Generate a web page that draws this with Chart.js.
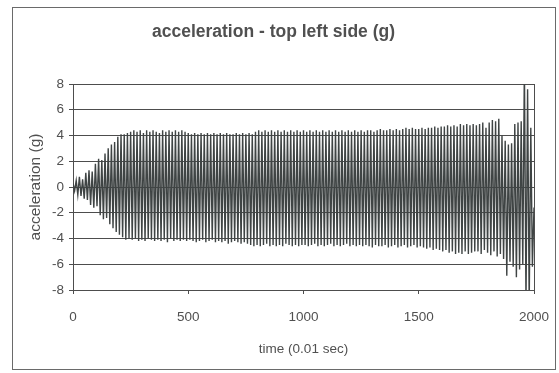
<!DOCTYPE html>
<html>
<head>
<meta charset="utf-8">
<script src="https://cdn.jsdelivr.net/npm/chart.js@4.4.1/dist/chart.umd.min.js"></script>
<style>
  body { margin: 0; background: #fff; }
  #frame {
    position: absolute; left: 12px; top: 7px;
    width: 544px; height: 363px;
    border: 1px solid #6a6a6a; box-sizing: border-box;
  }
  canvas { display: block; }
</style>
</head>
<body>
<div id="frame"><canvas id="accelChart" width="542" height="361"></canvas></div>
<script>
// peak / trough of each swing, in g, one block per 250 samples (0.01 sec)
const swings0 = [0.3, -0.3, 0.5, -0.6, 0.8, -0.7, 0.6, -0.9, 1.1, -1.0, 1.3, -1.4, 1.2, -1.6, 1.8, -1.5, 2.2, -2.2,
  2.1, -2.5, 2.6, -2.4, 3.0, -2.9, 3.3, -3.2, 3.5, -3.5, 3.9, -3.7, 4.1, -3.9, 4.1, -4.1, 4.2, -4.0];
const swings1 = [4.3, -4.1, 4.4, -4.0, 4.3, -4.2, 4.4, -4.1, 4.2, -4.2, 4.4, -4.0, 4.3, -4.1, 4.4, -4.2, 4.3, -4.1,
  4.2, -4.2, 4.4, -4.1, 4.3, -4.3, 4.4, -4.0, 4.3, -4.2, 4.4, -4.1, 4.3, -4.2, 4.4, -4.1, 4.3, -4.2];
const swings2 = [4.2, -4.1, 4.1, -4.2, 4.2, -4.3, 4.1, -4.2, 4.2, -4.1, 4.1, -4.3, 4.2, -4.2, 4.1, -4.1, 4.2, -4.3,
  4.1, -4.2, 4.2, -4.3, 4.1, -4.2, 4.2, -4.4, 4.1, -4.3, 4.1, -4.2, 4.2, -4.3, 4.1, -4.4, 4.2, -4.3];
const swings3 = [4.1, -4.4, 4.2, -4.5, 4.1, -4.6, 4.3, -4.5, 4.4, -4.6, 4.3, -4.5, 4.4, -4.4, 4.3, -4.6, 4.4, -4.5,
  4.3, -4.6, 4.4, -4.5, 4.3, -4.6, 4.4, -4.4, 4.3, -4.5, 4.4, -4.6, 4.3, -4.5, 4.4, -4.6, 4.3, -4.5];
const swings4 = [4.4, -4.5, 4.3, -4.6, 4.4, -4.5, 4.3, -4.4, 4.4, -4.6, 4.3, -4.5, 4.4, -4.6, 4.3, -4.5, 4.4, -4.4,
  4.3, -4.6, 4.4, -4.5, 4.3, -4.6, 4.4, -4.5, 4.3, -4.4, 4.4, -4.6, 4.3, -4.5, 4.4, -4.6, 4.3, -4.5];
const swings5 = [4.4, -4.6, 4.3, -4.5, 4.4, -4.6, 4.4, -4.7, 4.3, -4.5, 4.4, -4.6, 4.5, -4.6, 4.4, -4.5, 4.4, -4.7,
  4.5, -4.6, 4.4, -4.5, 4.5, -4.7, 4.4, -4.6, 4.5, -4.5, 4.6, -4.7, 4.5, -4.6, 4.6, -4.5, 4.5, -4.7];
const swings6 = [4.5, -4.6, 4.6, -4.7, 4.5, -4.8, 4.6, -4.7, 4.6, -4.9, 4.7, -4.8, 4.6, -4.9, 4.7, -5.0, 4.7, -4.9,
  4.8, -5.1, 4.7, -5.0, 4.8, -5.2, 4.7, -5.1, 4.9, -5.2, 4.8, -5.0, 4.9, -5.2, 4.8, -5.1, 4.9, -5.0];
const swings7 = [4.8, -5.0, 4.9, -5.2, 5.0, -4.9, 4.6, -5.1, 5.0, -5.3, 5.2, -5.0, 5.1, -5.4, 5.3, -5.2, 4.0, -5.6,
  3.6, -6.9, 3.3, -5.8, 3.4, -6.2, 4.9, -7.0, 5.0, -6.4, 5.1, -6.0, 9.5, -9.0, 7.6, -9.0, 4.6, -6.2, -1.6];

const xTicks = [0, 500, 1000, 1500, 2000];
const yTicks = [-8, -6, -4, -2, 0, 2, 4, 6, 8];

const accel = [].concat(swings0, swings1, swings2, swings3, swings4, swings5, swings6, swings7);
const tEnd = 2000;
const points = accel.map((v, i) => ({ x: i * tEnd / (accel.length - 1), y: v }));

const font = "'Liberation Sans', Arial, sans-serif";
const ink = '#505050';
const rule = '#4d4d4d';

new Chart(document.getElementById('accelChart'), {
  type: 'line',
  data: {
    datasets: [{
      data: points,
      borderColor: '#3f4444',
      borderWidth: 1.4,
      pointRadius: 0,
      tension: 0,
      fill: false,
    }],
  },
  options: {
    responsive: false,
    animation: false,
    events: [],
    layout: { padding: { left: 0, right: 21, top: 0, bottom: 0 } },
    plugins: {
      legend: { display: false },
      tooltip: { enabled: false },
      title: {
        display: true,
        text: 'acceleration - top left side (g)',
        color: ink,
        font: { family: font, size: 17.5, weight: 'bold' },
        padding: { top: 14, bottom: 41 },
      },
    },
    scales: {
      x: {
        type: 'linear',
        min: 0,
        max: 2000,
        afterBuildTicks: (scale) => { scale.ticks = xTicks.map((v) => ({ value: v })); },
        afterFit: (scale) => {
          scale.height = 79;
          scale.paddingLeft = 0;
          scale.paddingRight = 0;
        },
        grid: {
          color: (ctx) => (ctx.tick && (ctx.tick.value === 0 || ctx.tick.value === 2000) ? rule : 'rgba(0,0,0,0)'),
          tickColor: rule,
          tickLength: 4,
        },
        border: { color: rule },
        ticks: {
          color: ink,
          font: { family: font, size: 13.5 },
          padding: 15,
          maxRotation: 0,
          callback: (v) => String(v),
        },
        title: {
          display: true,
          text: 'time (0.01 sec)',
          color: ink,
          font: { family: font, size: 13.5 },
          padding: { top: 0, bottom: 12 },
        },
      },
      y: {
        min: -8,
        max: 8,
        afterBuildTicks: (scale) => { scale.ticks = yTicks.map((v) => ({ value: v })); },
        afterFit: (scale) => { scale.width = 60; },
        grid: { color: rule, tickColor: rule, tickLength: 4 },
        border: { color: rule },
        ticks: { color: ink, font: { family: font, size: 13.5 }, padding: 5, callback: (v) => String(v) },
        title: {
          display: true,
          text: 'acceleration (g)',
          color: ink,
          font: { family: font, size: 15.5 },
          padding: { top: 13, bottom: 0 },
        },
      },
    },
  },
});
</script>
</body>
</html>
